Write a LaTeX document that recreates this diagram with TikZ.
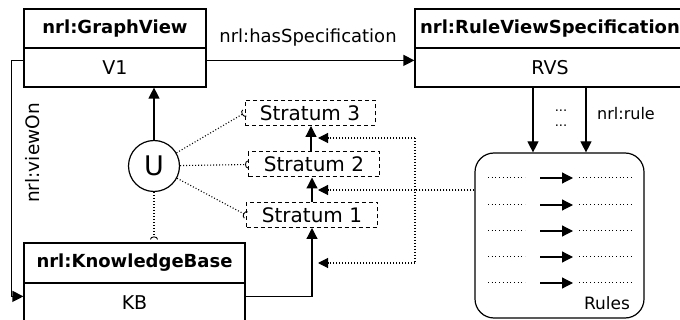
\documentclass[tikz,border=0pt]{standalone}
\usepackage{fontspec}
\setmainfont{DejaVu Sans}
\usetikzlibrary{arrows.meta,calc}
\begin{document}
\begin{tikzpicture}[x=1pt,y=-1pt,
  every node/.style={font=\fontsize{19}{22}\selectfont},
  box/.style={draw,line width=1.2pt,inner sep=0pt,minimum height=39pt},
  hdr/.style={box,font=\fontsize{18}{21}\selectfont\bfseries},
  stratum/.style={draw,dash pattern=on 4pt off 3pt,line width=1pt,minimum height=25pt,inner sep=0pt,font=\fontsize{20}{22}\selectfont},
  arr/.style={line width=1.2pt,-{Triangle[length=11pt,width=11pt]}},
  dotln/.style={line width=1.1pt,dash pattern=on 1pt off 2pt},
  dotarr/.style={dotln,-{Triangle[length=10pt,width=10pt]}},
  sock/.style={dotln,-{Arc Barb[reversed,length=3pt,width=8pt,line width=0.9pt]}},
  finedot/.style={line width=1pt,dash pattern=on 1pt off 2.7pt},
  dots/.style={inner sep=0pt,font=\fontsize{13}{13}\selectfont},
]
\useasboundingbox (0,0) rectangle (680,320);

% boxes
\node[hdr,minimum width=182pt] (gvh) at (115,28.5) {nrl:GraphView};
\node[box,minimum width=182pt] (gvb) at (115,67.5) {V1};
\node[hdr,minimum width=270pt] (rvh) at (550,28.5) {nrl:RuleViewSpecification};
\node[box,minimum width=270pt] (rvb) at (550,67.5) {RVS};
\node[hdr,minimum width=221pt,minimum height=40pt] (kbh) at (134.5,263) {nrl:KnowledgeBase};
\node[box,minimum width=221pt,minimum height=40pt] (kbb) at (134.5,303) {KB};

% U
\node[circle,draw,line width=1.2pt,minimum size=51pt,inner sep=0pt,font=\fontsize{27}{30}\selectfont] (u) at (154,166) {U};

% strata
\node[stratum,minimum width=130pt] (s3) at (310,113) {Stratum 3};
\node[stratum,minimum width=131pt] (s2) at (314,164.5) {Stratum 2};
\node[stratum,minimum width=131pt] (s1) at (312,215) {Stratum 1};

% rules box
\node[draw,line width=1.2pt,rounded corners=19pt,minimum width=169pt,minimum height=165pt,inner sep=0pt] (rules) at (559.5,235.5) {};
\node[font=\fontsize{17}{20}\selectfont] (rl) at (607,303) {Rules};
\foreach \yy in {178,205,231,257,283}{
  \draw[finedot] (488,\yy) -- (525,\yy);
  \draw[line width=1.2pt,-{Triangle[length=11pt,width=11pt]}] (540,\yy) -- (573,\yy);
  \draw[finedot] (579,\yy) -- (632,\yy);
}

% hasSpecification
\coordinate (gvE) at ($(gvb.north east)+(0,13)$);
\coordinate (gvW) at ($(gvb.north west)+(0,13)$);
\coordinate (rvW) at ($(rvb.north west)+(0,13)$);
\draw[arr] (gvE) -- (rvW);
\node[font=\fontsize{18}{21}\selectfont] (hs) at (308,38) {nrl:hasSpecification};

% viewOn
\coordinate (kbW) at ($(kbb.north west)+(0,14)$);
\coordinate (kbE) at ($(kbb.north east)+(0,14)$);
\draw[arr] (gvW) -- ++(-12,0) |- (kbW);
\node[rotate=90,font=\fontsize{18.5}{21}\selectfont] (vo) at (33,153) {nrl:viewOn};

% U connections
\draw[arr] (u.north) -- (u.north |- gvb.south);
\draw[sock] (u) -- (s3.west);
\draw[sock] (u) -- (s2.west);
\draw[sock] (u) -- (s1.west);
\draw[sock,shorten >=3pt] (u.south) -- (u.south |- kbh.north);

% strata chain
\draw[arr] (kbE) -| (s1.south);
\draw[arr] (s1.north) -- (s1.north |- s2.south);
\draw[arr] ([xshift=-3pt]s2.north) -- ([xshift=-3pt]s2.north |- s3.south);

% RVS -> rules
\draw[arr] ([xshift=-17pt]rvb.south) -- ([xshift=-17pt]rvb.south |- rules.north);
\draw[arr] ([xshift=36pt]rvb.south) -- ([xshift=36pt]rvb.south |- rules.north);
\node[dots] (d1) at (561,111) {...};
\node[dots] (d2) at (561,126) {...};
\node[font=\fontsize{16}{19}\selectfont] (nr) at (626,114) {nrl:rule};

% rules -> strata (dotted)
\coordinate (jt) at (415,138);
\coordinate (jm) at (415,190);
\coordinate (jb) at (415,263);
\coordinate (t3) at (318,138);
\coordinate (t2) at (318,190);
\coordinate (t1) at (318,263);
\draw[dotln] (rules.west |- jm) -- (jm);
\draw[dotln] (jt) -- (jb);
\draw[dotarr] (jt) -- (t3);
\draw[dotarr] (jm) -- (t2);
\draw[dotarr] (jb) -- (t1);
\end{tikzpicture}
\end{document}
